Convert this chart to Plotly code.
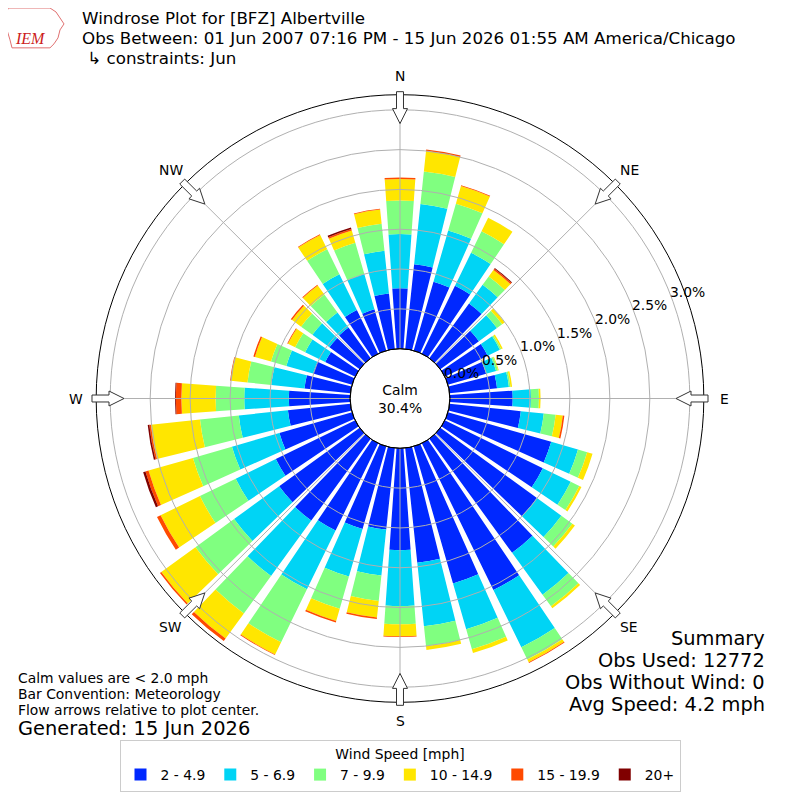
import math
import plotly.graph_objects as go

# ---- data (percent of observations) ----
directions = list(range(0, 360, 10))
speed_bins = ["2 - 4.9", "5 - 6.9", "7 - 9.9", "10 - 14.9", "15 - 19.9", "20+"]
bin_colors = ["#0028ff", "#00d4f5", "#80ff80", "#ffe600", "#ff4a00", "#800000"]

pct_2_5 = [0.76, 1.07, 0.90, 0.95, 0.85, 0.60, 0.60, 0.50, 0.60, 0.79, 0.90, 1.35,
           1.37, 1.50, 1.77, 2.05, 1.79, 1.45, 1.28, 1.03, 1.08, 1.22, 1.27, 1.25,
           1.11, 0.95, 0.79, 0.77, 0.58, 0.51, 0.42, 0.47, 0.475, 0.61, 0.54, 0.70]
pct_5_7 = [0.68, 0.76, 0.67, 0.46, 0.29, 0.28, 0.17, 0.13, 0.15, 0.23, 0.29, 0.35,
           0.39, 0.38, 0.65, 0.80, 0.60, 0.80, 0.70, 0.58, 0.62, 0.82, 0.86, 0.70,
           0.56, 0.62, 0.62, 0.56, 0.42, 0.35, 0.28, 0.265, 0.235, 0.50, 0.46, 0.54]
pct_7_10 = [0.42, 0.41, 0.35, 0.30, 0.13, 0.08, 0.02, 0.025, 0.02, 0.10, 0.15, 0.12,
            0.12, 0.17, 0.18, 0.17, 0.26, 0.25, 0.23, 0.32, 0.42, 0.74, 0.58, 0.60,
            0.50, 0.51, 0.49, 0.36, 0.30, 0.20, 0.14, 0.175, 0.28, 0.35, 0.41, 0.34]
pct_10_15 = [0.27, 0.26, 0.23, 0.19, 0.10, 0.04, 0.02, 0.01, 0.02, 0.02, 0.09, 0.07,
             0.03, 0.04, 0.03, 0.04, 0.05, 0.05, 0.15, 0.21, 0.16, 0.17, 0.39, 0.53,
             0.55, 0.58, 0.62, 0.43, 0.21, 0.21, 0.10, 0.14, 0.14, 0.20, 0.16, 0.18]
pct_15_20 = [0.02, 0.02, 0.01, 0.0, 0.02, 0.0, 0.0, 0.0, 0.0, 0.0, 0.02, 0.0,
             0.0, 0.0, 0.0, 0.01, 0.0, 0.0, 0.01, 0.02, 0.02, 0.01, 0.04, 0.02,
             0.05, 0.04, 0.02, 0.07, 0.01, 0.02, 0.01, 0.02, 0.01, 0.01, 0.02, 0.01]
pct_20_up = [0.0, 0.0, 0.0, 0.0, 0.01, 0.0, 0.0, 0.0, 0.0, 0.0, 0.0, 0.0,
             0.0, 0.0, 0.0, 0.0, 0.0, 0.0, 0.0, 0.0, 0.0, 0.0, 0.0, 0.0,
             0.0, 0.03, 0.02, 0.01, 0.0, 0.0, 0.0, 0.0, 0.0, 0.0, 0.02, 0.0]
series = [pct_2_5, pct_5_7, pct_7_10, pct_10_15, pct_15_20, pct_20_up]

compass_angles = [0, 45, 90, 135, 180, 225, 270, 315]
compass_labels = ["N", "NE", "E", "SE", "S", "SW", "W", "NW"]
radial_ticks = [0.0, 0.5, 1.0, 1.5, 2.0, 2.5, 3.0]
r_max = 3.19
calm_pct = 30.4

FONT = "DejaVu Sans"
OFF = 8            # page body margin
FW = 784           # figure size in px
CX, CY, R_OUT = 400, 400, 305
R_HOLE = 50
SCALE = (R_OUT - R_HOLE) / r_max


def px(x):
    return (x - OFF) / FW


def py(y):
    return 1 - (y - OFF) / FW


fig = go.Figure()
for name, col, vals in zip(speed_bins, bin_colors, series):
    fig.add_trace(go.Barpolar(
        r=vals, theta=directions, width=8, name=name,
        marker=dict(color=col, line=dict(width=0)),
    ))

fig.update_layout(
    width=FW, height=FW,
    margin=dict(l=0, r=0, t=0, b=0),
    paper_bgcolor="white",
    font=dict(family=FONT, color="black"),
    polar=dict(
        domain=dict(x=[px(CX - R_OUT), px(CX + R_OUT)], y=[py(CY + R_OUT), py(CY - R_OUT)]),
        hole=R_HOLE / R_OUT,
        bgcolor="white",
        barmode="stack",
        radialaxis=dict(range=[0, r_max], showgrid=False, showline=False,
                        showticklabels=False, ticks=""),
        angularaxis=dict(rotation=90, direction="clockwise", showgrid=False,
                         showticklabels=False, ticks="", showline=True,
                         linecolor="black", linewidth=1),
    ),
    legend=dict(
        orientation="h", x=px(400), xanchor="center", y=py(743), yanchor="top",
        title=dict(text="Wind Speed [mph]", side="top center", font=dict(size=13.9)),
        font=dict(size=13.9), bordercolor="#cccccc", borderwidth=1,
        bgcolor="white", itemwidth=30, traceorder="normal",
    ),
)

shapes = []
# radial grid rings (drawn over bars as in reference)
for v in radial_ticks[1:]:
    rr = R_HOLE + v * SCALE
    shapes.append(dict(type="circle", xref="paper", yref="paper",
                       x0=px(CX - rr), x1=px(CX + rr), y0=py(CY + rr), y1=py(CY - rr),
                       line=dict(color="#b0b0b0", width=1)))
# angular grid spokes
for ang in compass_angles:
    t = math.radians(ang)
    shapes.append(dict(type="line", xref="paper", yref="paper",
                       x0=px(CX + R_HOLE * math.sin(t)), y0=py(CY - R_HOLE * math.cos(t)),
                       x1=px(CX + R_OUT * math.sin(t)), y1=py(CY - R_OUT * math.cos(t)),
                       line=dict(color="#b0b0b0", width=1)))
# calm circle border
shapes.append(dict(type="circle", xref="paper", yref="paper",
                   x0=px(CX - R_HOLE), x1=px(CX + R_HOLE),
                   y0=py(CY + R_HOLE), y1=py(CY - R_HOLE),
                   line=dict(color="black", width=1)))

# flow arrows at compass points (pointing inward)
arrow_pts = [(308, -3.5), (291, -3.5), (291, -7.5), (276, 0), (291, 7.5), (291, 3.5), (308, 3.5)]
for ang in compass_angles:
    t = math.radians(ang)
    ox, oy = math.sin(t), -math.cos(t)
    qx, qy = math.cos(t), math.sin(t)
    pts = []
    for rr, ww in arrow_pts:
        x = CX + rr * ox + ww * qx
        y = CY + rr * oy + ww * qy
        pts.append(f"{px(x):.5f},{py(y):.5f}")
    path = "M " + " L ".join(pts) + " Z"
    shapes.append(dict(type="path", xref="paper", yref="paper", path=path,
                       fillcolor="white", line=dict(color="#333333", width=1)))

# small state outline for the logo
logo = [(8, 8), (50, 8), (56, 12), (60, 18), (64, 24), (60, 30), (58, 38), (54, 44),
        (50, 48), (12, 48), (10, 40), (7, 30), (6, 18)]
shapes.append(dict(type="path", xref="paper", yref="paper",
                   path="M " + " L ".join(f"{px(a):.5f},{py(b):.5f}" for a, b in logo) + " Z",
                   line=dict(color="#e07070", width=1)))
fig.update_layout(shapes=shapes)


def ann(text, x, y, size, xanchor="left", yanchor="middle", color="black", family=FONT):
    fig.add_annotation(text=text, x=px(x), y=py(y), xref="paper", yref="paper",
                       xanchor=xanchor, yanchor=yanchor, showarrow=False,
                       font=dict(size=size, color=color, family=family), align=xanchor)


# compass labels
for ang, lab in zip(compass_angles, compass_labels):
    t = math.radians(ang)
    ann(lab, CX + 324 * math.sin(t), CY - 324 * math.cos(t), 13.9, xanchor="center")

# radial tick labels (placed like matplotlib's rlabels)
ra = math.radians(20)
for v in radial_ticks:
    rr = R_HOLE + v * SCALE
    ann(f"{v:.1f}%", CX + rr * math.cos(ra) + 15, CY - rr * math.sin(ra) - 8, 13.9,
        xanchor="center")

ann("Windrose Plot for [BFZ] Albertville", 80, 18, 16.7)
ann("Obs Between: 01 Jun 2007 07:16 PM - 15 Jun 2026 01:55 AM America/Chicago", 80, 38, 16.7)
ann(" \u21b3 constraints: Jun", 80, 58, 16.7)
ann("<i>IEM</i>", 30, 39, 16, xanchor="center", color="#cc2020", family="Liberation Serif")

fig.add_annotation(text=f"Calm<br>{calm_pct:.1f}%", x=px(CX), y=py(CY), xref="paper", yref="paper",
                   showarrow=False, font=dict(size=13.9, family=FONT), align="center")

ann("Calm values are < 2.0 mph", 16, 681, 13.9)
ann("Bar Convention: Meteorology", 16, 697, 13.9)
ann("Flow arrows relative to plot center.", 16, 713, 13.9)
ann("Generated: 15 Jun 2026", 16, 731, 19.4)

ann("Summary", 767, 641, 19.4, xanchor="right")
ann("Obs Used: 12772", 767, 663, 19.4, xanchor="right")
ann("Obs Without Wind: 0", 767, 685, 19.4, xanchor="right")
ann("Avg Speed: 4.2 mph", 767, 707, 19.4, xanchor="right")

fig.write_html("out.html")
